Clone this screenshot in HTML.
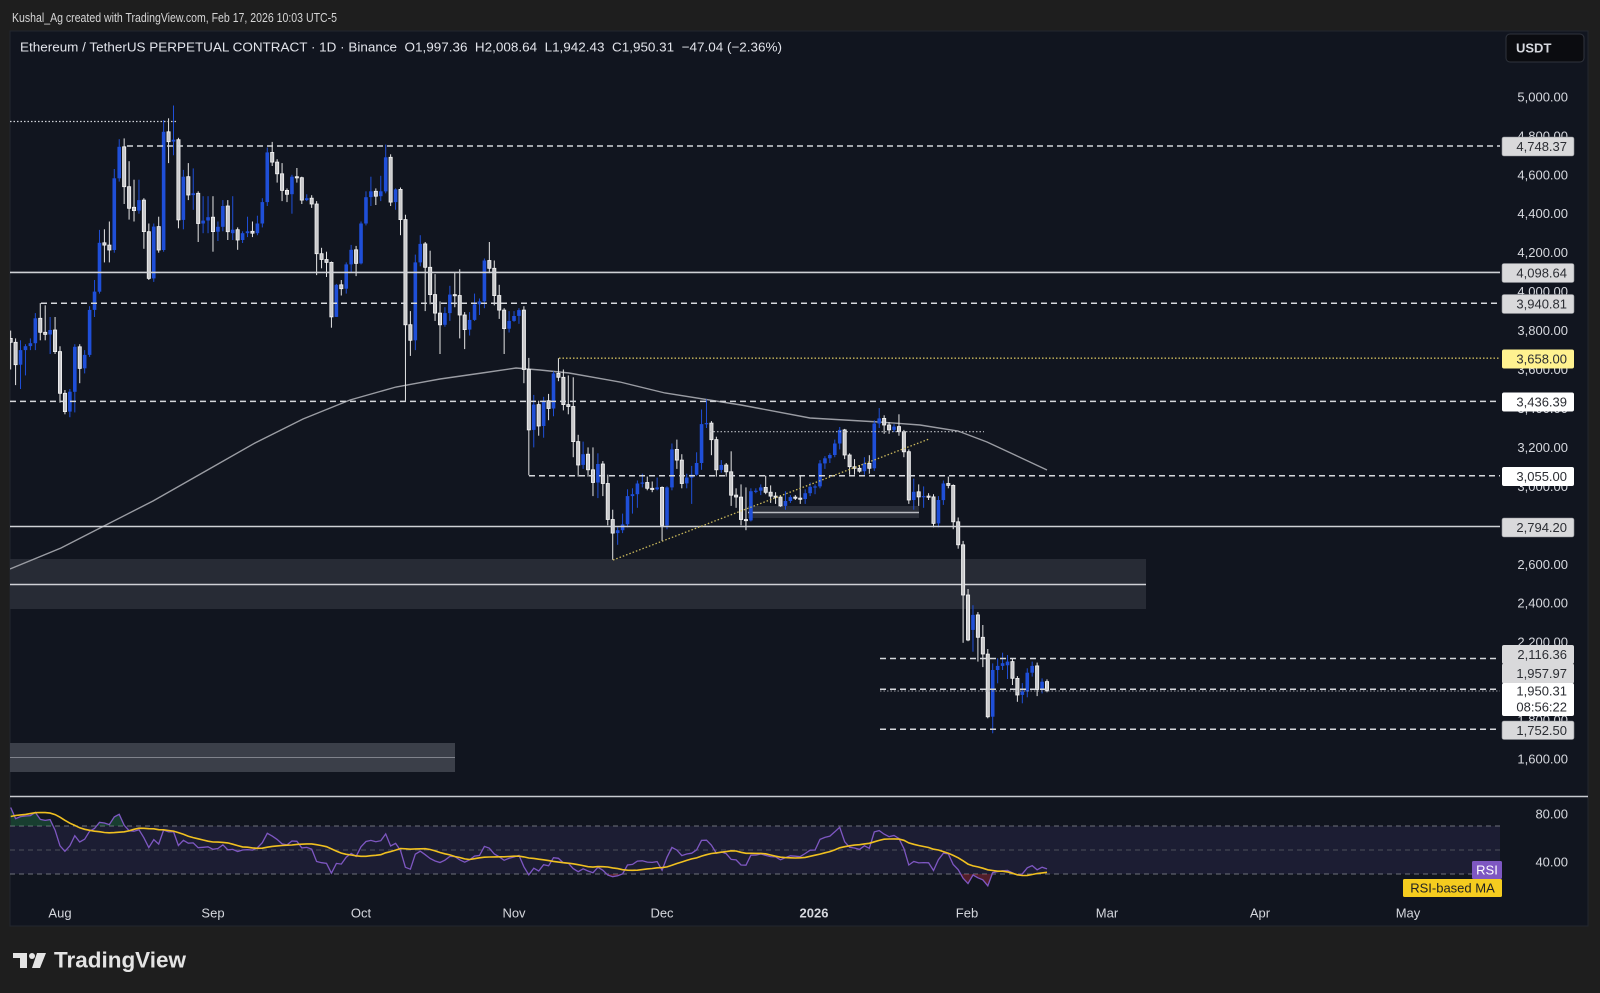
<!DOCTYPE html>
<html><head><meta charset="utf-8">
<style>
html,body{margin:0;padding:0;background:#1e1e1e;}
body{width:1600px;height:993px;overflow:hidden;}
svg{display:block;font-family:"Liberation Sans",Arial,sans-serif;}
</style></head>
<body>
<svg id="s" width="1600" height="993" viewBox="0 0 1600 993" xmlns="http://www.w3.org/2000/svg">
<defs>
<clipPath id="plot"><rect x="10" y="31" width="1490" height="765"/></clipPath>
<clipPath id="rsiclip"><rect x="10" y="798" width="1490" height="110"/></clipPath>
<clipPath id="ob"><rect x="10" y="790" width="1490" height="36"/></clipPath>
<clipPath id="os"><rect x="10" y="874" width="1490" height="40"/></clipPath>
</defs>
<rect width="1600" height="993" fill="#1e1e1e"/>
<rect x="10" y="31" width="1578" height="895" fill="#11151f" stroke="#23272f" stroke-width="1"/>

<!-- header -->
<text x="12" y="22" font-size="13" fill="#d6d6d6" textLength="325" lengthAdjust="spacingAndGlyphs">Kushal_Ag created with TradingView.com, Feb 17, 2026 10:03 UTC-5</text>
<text x="20" y="51.5" font-size="13" fill="#e1e3ea" textLength="762" lengthAdjust="spacingAndGlyphs" xml:space="preserve">Ethereum / TetherUS PERPETUAL CONTRACT · 1D · Binance  O1,997.36  H2,008.64  L1,942.43  C1,950.31  −47.04 (−2.36%)</text>

<!-- USDT box -->
<rect x="1506" y="34" width="78" height="28" rx="4" fill="#0b0c10" stroke="#30343d" stroke-width="1"/>
<text x="1516" y="52.5" font-size="13" font-weight="bold" fill="#d6d8de">USDT</text>

<g clip-path="url(#plot)">
  <!-- zones -->
  <rect x="10" y="559" width="1136" height="50" fill="#272b35"/>
  <line x1="10" y1="584.5" x2="1146" y2="584.5" stroke="#cfd1d6" stroke-width="1.5"/>
  <rect x="10" y="743" width="445" height="29" fill="#3b3f49"/>
  <line x1="10" y1="757.5" x2="455" y2="757.5" stroke="#80838c" stroke-width="1"/>
  <rect x="748" y="506" width="171" height="12" fill="#2a2e38"/>
  <line x1="748" y1="512.5" x2="919" y2="512.5" stroke="#b8bac0" stroke-width="1.5"/>

  <!-- 200 MA -->
  <polyline fill="none" stroke="#9a9ca3" stroke-width="1.4" points="10,569 61,548 102,527 153,501 204,472 255,443 303,419 350,400 396,387 440,379 482,373 516,368 540,370 569,373 620,382 665,393 741,405 810,418 879,422 920,425 958,431 987,442 1015,455 1047,470"/>

  <g id="candles"></g>

  <!-- drawings -->
  <line x1="10" y1="121.5" x2="176" y2="121.5" stroke="#d0d2d8" stroke-width="1.2" stroke-dasharray="1.5 2"/>
  <line x1="127" y1="146" x2="1500" y2="146" stroke="#d6d8dc" stroke-width="1.5" stroke-dasharray="6 4"/>
  <line x1="10" y1="272.4" x2="1500" y2="272.4" stroke="#cfd1d6" stroke-width="1.6"/>
  <line x1="41" y1="303.2" x2="1500" y2="303.2" stroke="#d6d8dc" stroke-width="1.5" stroke-dasharray="6 4"/>
  <line x1="559" y1="358.2" x2="1500" y2="358.2" stroke="#cbb95c" stroke-width="1.3" stroke-dasharray="1.5 2"/>
  <line x1="10" y1="401.4" x2="1500" y2="401.4" stroke="#d6d8dc" stroke-width="1.5" stroke-dasharray="6 4"/>
  <line x1="529" y1="475.7" x2="1500" y2="475.7" stroke="#d6d8dc" stroke-width="1.5" stroke-dasharray="6 4"/>
  <line x1="10" y1="526.5" x2="1500" y2="526.5" stroke="#cfd1d6" stroke-width="1.6"/>
  <line x1="710" y1="431.7" x2="984" y2="431.7" stroke="#b8bac0" stroke-width="1.2" stroke-dasharray="1.5 2"/>
  <line x1="613" y1="560" x2="929" y2="439" stroke="#cbb95c" stroke-width="1.3" stroke-dasharray="1.5 2"/>
  <line x1="880" y1="658.5" x2="1500" y2="658.5" stroke="#d6d8dc" stroke-width="1.5" stroke-dasharray="6 4"/>
  <line x1="880" y1="689.3" x2="1500" y2="689.3" stroke="#d6d8dc" stroke-width="1.5" stroke-dasharray="6 4"/>
  <line x1="880" y1="691" x2="1500" y2="691" stroke="#9a9ca3" stroke-width="1" stroke-dasharray="1.5 2"/>
  <line x1="880" y1="729.3" x2="1500" y2="729.3" stroke="#d6d8dc" stroke-width="1.5" stroke-dasharray="6 4"/>
</g>

<!-- price axis tick labels -->
<g font-size="13" fill="#d6d8de" text-anchor="end">
<text x="1568" y="101.4">5,000.00</text>
<text x="1568" y="140.3">4,800.00</text>
<text x="1568" y="179.3">4,600.00</text>
<text x="1568" y="218.2">4,400.00</text>
<text x="1568" y="257.2">4,200.00</text>
<text x="1568" y="296.1">4,000.00</text>
<text x="1568" y="335.1">3,800.00</text>
<text x="1568" y="374">3,600.00</text>
<text x="1568" y="413">3,400.00</text>
<text x="1568" y="451.9">3,200.00</text>
<text x="1568" y="490.9">3,000.00</text>
<text x="1568" y="529.8">2,800.00</text>
<text x="1568" y="568.8">2,600.00</text>
<text x="1568" y="607.7">2,400.00</text>
<text x="1568" y="646.7">2,200.00</text>
<text x="1568" y="685.6">2,000.00</text>
<text x="1568" y="724.6">1,800.00</text>
<text x="1568" y="763.5">1,600.00</text>
</g>

<!-- price boxes -->
<g font-size="13" text-anchor="end">
<rect x="1502" y="137" width="72" height="19" rx="2" fill="#d9d9db" stroke="#8a8c92" stroke-width="0.6"/>
<text x="1567" y="151" fill="#2b2d33">4,748.37</text>
<rect x="1502" y="263.5" width="72" height="19" rx="2" fill="#d9d9db" stroke="#8a8c92" stroke-width="0.6"/>
<text x="1567" y="277.5" fill="#2b2d33">4,098.64</text>
<rect x="1502" y="294.5" width="72" height="19" rx="2" fill="#d9d9db" stroke="#8a8c92" stroke-width="0.6"/>
<text x="1567" y="308.5" fill="#2b2d33">3,940.81</text>
<rect x="1502" y="349.5" width="72" height="19" rx="2" fill="#fff290"/>
<text x="1567" y="363.5" fill="#2b2d33">3,658.00</text>
<rect x="1502" y="392.5" width="72" height="19" rx="2" fill="#ffffff"/>
<text x="1567" y="406.5" fill="#2b2d33">3,436.39</text>
<rect x="1502" y="467" width="72" height="19" rx="2" fill="#ffffff"/>
<text x="1567" y="481" fill="#2b2d33">3,055.00</text>
<rect x="1502" y="518" width="72" height="19" rx="2" fill="#d9d9db" stroke="#8a8c92" stroke-width="0.6"/>
<text x="1567" y="532" fill="#2b2d33">2,794.20</text>
<rect x="1502" y="645" width="72" height="19" rx="2" fill="#d9d9db"/>
<text x="1567" y="659" fill="#2b2d33">2,116.36</text>
<rect x="1502" y="663.5" width="72" height="20" rx="2" fill="#d9d9db"/>
<text x="1567" y="678" fill="#2b2d33">1,957.97</text>
<rect x="1502" y="683" width="72" height="33" rx="2" fill="#ffffff"/>
<text x="1567" y="695.5" fill="#2b2d33">1,950.31</text>
<text x="1567" y="711.5" fill="#2b2d33">08:56:22</text>
<rect x="1502" y="721" width="72" height="18.5" rx="2" fill="#d9d9db" stroke="#8a8c92" stroke-width="0.6"/>
<text x="1567" y="734.8" fill="#2b2d33">1,752.50</text>
</g>

<!-- pane separator -->
<line x1="10" y1="796.5" x2="1588" y2="796.5" stroke="#c8cad0" stroke-width="1.5"/>

<!-- RSI pane -->
<rect x="10" y="826" width="1490" height="48" fill="#1c1d33"/>
<line x1="10" y1="826" x2="1500" y2="826" stroke="#6e717b" stroke-width="1" stroke-dasharray="5 4"/>
<line x1="10" y1="850" x2="1500" y2="850" stroke="#4e515b" stroke-width="1" stroke-dasharray="5 4"/>
<line x1="10" y1="874" x2="1500" y2="874" stroke="#6e717b" stroke-width="1" stroke-dasharray="5 4"/>
<g clip-path="url(#rsiclip)">
  <path id="obfill" clip-path="url(#ob)" fill="rgba(38,140,80,0.35)" d=""/>
  <path id="osfill" clip-path="url(#os)" fill="rgba(200,50,60,0.35)" d=""/>
  <polyline id="rsiline" fill="none" stroke="#7e57c2" stroke-width="1.3" points=""/>
  <polyline id="rsima" fill="none" stroke="#f0c020" stroke-width="1.6" points=""/>
</g>
<g font-size="13" fill="#d6d8de" text-anchor="end">
<text x="1568" y="818.5">80.00</text>
<text x="1568" y="866.5">40.00</text>
</g>
<rect x="1472" y="861" width="30" height="18" rx="1.5" fill="#7e57c2"/>
<text x="1487" y="874.5" font-size="13" fill="#ffffff" text-anchor="middle">RSI</text>
<rect x="1403" y="879" width="99" height="18" rx="1.5" fill="#f5cc1f"/>
<text x="1452.5" y="892.5" font-size="13" fill="#222" text-anchor="middle">RSI-based MA</text>

<!-- time axis -->
<g font-size="13" fill="#d6d8de" text-anchor="middle">
<text x="60" y="917.5">Aug</text>
<text x="213" y="917.5">Sep</text>
<text x="361" y="917.5">Oct</text>
<text x="514" y="917.5">Nov</text>
<text x="662" y="917.5">Dec</text>
<text x="814" y="917.5" font-weight="bold">2026</text>
<text x="967" y="917.5">Feb</text>
<text x="1107" y="917.5">Mar</text>
<text x="1260" y="917.5">Apr</text>
<text x="1408" y="917.5">May</text>
</g>

<!-- logo -->
<g fill="#e4e4e4">
<rect x="13" y="953" width="14" height="5"/>
<rect x="20" y="953" width="7" height="15"/>
<circle cx="32" cy="956" r="3"/>
<polygon points="37,953 46,953 40,968 32,968"/>
</g>
<text x="54" y="967.5" font-size="22" font-weight="bold" fill="#e4e4e4" textLength="132" lengthAdjust="spacingAndGlyphs">TradingView</text>
</svg>

<script>
(function(){
const D=[
[3760,3800,3600,3740],[3740,3760,3520,3625],[3625,3750,3500,3700],[3700,3730,3570,3720],[3720,3760,3700,3735],
[3735,3890,3700,3863],[3863,3941,3750,3791],[3791,3930,3750,3780],[3780,3870,3680,3803],[3803,3870,3680,3692],
[3692,3720,3430,3478],[3478,3495,3370,3384],[3384,3500,3355,3486],[3486,3730,3380,3717],[3717,3730,3530,3606],
[3606,3700,3580,3675],[3675,3925,3665,3906],[3906,4060,3870,4000],[4000,4317,3990,4251],[4251,4320,4150,4239],
[4239,4360,4150,4214],[4214,4630,4200,4582],[4582,4783,4565,4744],[4744,4787,4450,4539],[4539,4670,4370,4428],
[4433,4575,4360,4416],[4416,4575,4400,4470],[4470,4480,4220,4308],[4308,4350,4060,4068],[4068,4350,4050,4334],
[4334,4385,4200,4214],[4214,4881,4205,4821],[4821,4890,4660,4770],[4770,4956,4700,4780],[4780,4790,4325,4368],
[4368,4625,4320,4590],[4590,4660,4470,4496],[4496,4633,4420,4505],[4505,4515,4255,4350],[4350,4490,4300,4365],
[4365,4490,4300,4382],[4382,4490,4205,4308],[4308,4360,4260,4333],[4333,4470,4310,4440],[4440,4470,4265,4308],
[4300,4490,4265,4318],[4318,4330,4215,4265],[4265,4310,4250,4300],[4300,4385,4280,4310],[4310,4360,4280,4300],
[4300,4390,4290,4350],[4350,4480,4330,4460],[4460,4740,4440,4715],[4715,4769,4645,4665],[4665,4680,4560,4605],
[4605,4660,4465,4520],[4520,4530,4460,4500],[4500,4600,4400,4590],[4590,4635,4560,4585],[4585,4590,4450,4470],
[4470,4500,4465,4480],[4480,4495,4430,4450],[4450,4465,4085,4195],[4195,4225,4120,4165],[4165,4205,4075,4150],
[4150,4155,3815,3870],[3870,4040,3870,4035],[4035,4060,3980,4015],[4015,4150,3990,4140],[4140,4240,4100,4215],
[4215,4235,4080,4145],[4145,4360,4140,4350],[4350,4515,4340,4485],[4485,4590,4440,4515],[4515,4530,4445,4490],
[4490,4595,4465,4515],[4515,4755,4505,4690],[4690,4705,4440,4460],[4460,4530,4420,4525],[4525,4535,4290,4370],
[4370,4395,3435,3830],[3830,3900,3670,3750],[3750,4190,3700,4150],[4150,4290,4130,4245],[4245,4255,3900,4125],
[4125,4210,3935,3985],[3985,4090,3850,3890],[3890,3950,3680,3830],[3830,3920,3820,3890],[3890,4030,3850,3985],
[3985,4100,3920,3980],[3980,4115,3760,3880],[3880,3895,3705,3805],[3805,3895,3775,3855],[3855,3990,3850,3935],
[3935,3965,3880,3950],[3950,4170,3915,4160],[4160,4255,4095,4120],[4120,4160,3930,3980],[3980,4035,3860,3905],
[3905,3915,3680,3810],[3810,3900,3790,3850],[3850,3900,3845,3875],[3875,3915,3835,3905],[3905,3925,3530,3600],
[3600,3660,3057,3290],[3290,3470,3200,3420],[3420,3440,3260,3310],[3310,3460,3250,3440],[3440,3475,3340,3400],
[3400,3590,3360,3580],[3580,3658,3540,3560],[3560,3600,3390,3420],[3420,3570,3370,3410],[3410,3560,3150,3230],
[3230,3265,3050,3110],[3110,3230,3090,3165],[3165,3200,3050,3085],[3085,3200,2950,3020],[3020,3170,2940,3115],
[3115,3130,2950,3015],[3015,3060,2800,2830],[2830,2880,2623,2760],[2760,2790,2700,2775],[2775,2860,2760,2805],
[2805,2985,2790,2950],[2950,2990,2860,2960],[2960,3030,2890,3015],[3015,3065,2995,3020],[3020,3050,2980,2990],
[2990,3025,2970,2985],[2985,3045,2980,2995],[2995,3000,2720,2800],[2800,3000,2780,2995],[2995,3220,2980,3190],
[3190,3240,3090,3135],[3135,3165,2990,3015],[3015,3065,2990,3045],[3045,3105,2910,3060],[3060,3175,3055,3120],
[3120,3395,3085,3320],[3320,3447,3300,3325],[3325,3335,3160,3240],[3240,3255,3050,3085],[3085,3135,3070,3110],
[3110,3120,3050,3075],[3075,3180,2900,2955],[2955,2990,2890,2945],[2945,3010,2800,2830],[2830,2995,2775,2825],
[2825,2990,2820,2975],[2975,2990,2965,2978],[2978,3010,2955,2995],[2995,3055,2960,2970],[2970,3005,2915,2950],
[2950,2970,2910,2945],[2945,2955,2895,2900],[2900,2975,2880,2925],[2925,2955,2915,2945],[2945,2955,2930,2940],
[2940,3055,2910,2935],[2935,2985,2910,2965],[2965,3020,2950,2998],[2998,3010,2960,3000],[3000,3135,2990,3118],
[3118,3155,3090,3144],[3144,3170,3120,3161],[3161,3240,3150,3220],[3220,3305,3190,3290],[3290,3295,3140,3161],
[3161,3170,3060,3101],[3101,3140,3060,3093],[3093,3110,3070,3078],[3078,3150,3060,3118],[3118,3160,3065,3093],
[3093,3340,3080,3323],[3323,3402,3300,3349],[3349,3365,3270,3315],[3315,3330,3270,3290],[3290,3320,3280,3307],
[3307,3370,3260,3281],[3281,3290,3150,3178],[3178,3190,2910,2930],[2930,3040,2880,2972],[2972,3010,2900,2946],
[2946,3000,2890,2950],[2950,2965,2930,2946],[2946,2960,2790,2810],[2810,2950,2790,2930],[2930,3030,2905,3015],
[3015,3050,2990,3005],[3005,3010,2780,2818],[2818,2840,2680,2700],[2700,2720,2197,2442],[2442,2473,2205,2211],
[2263,2390,2151,2340],[2340,2355,2100,2225],[2225,2288,2072,2139],[2139,2165,1809,1817],[1817,2091,1732,2057],
[2057,2117,1989,2078],[2078,2146,2057,2092],[2081,2134,2011,2100],[2100,2117,1980,2014],[2014,2026,1894,1929],
[1929,1990,1886,1946],[1946,2066,1917,2043],[2043,2100,2023,2078],[2078,2095,1923,1957],[1957,2014,1937,1997],
[1997.36,2008.64,1942.43,1950.31]
];
const W=[2530,2600,2590,2610,2420,2480,2525,2510,2680,2820,2770,2640,2580,2525,2545,2545,2510,2525,2520,2410,
2410,2230,2410,2450,2420,2420,2430,2440,2500,2485,2405,2570,2590,2510,2515,2570,2540,2610,2770,2950,
2960,2945,2970,3010,3140,3370,3475,3545,3590,3755,3760];
const X=d=>60+d*4.935, Y=p=>96.9+(5000-p)*0.19474;
let h='';
D.forEach((c,i)=>{
  const d=i-10,x=X(d),o=c[0],hi=c[1],lo=c[2],cl=c[3],up=cl>=o;
  const yt=Y(Math.max(o,cl)),yb=Y(Math.min(o,cl)),bh=Math.max(yb-yt,1.2);
  if(up){
    h+='<line x1="'+x.toFixed(2)+'" y1="'+Y(hi).toFixed(1)+'" x2="'+x.toFixed(2)+'" y2="'+Y(lo).toFixed(1)+'" stroke="#1f4fd8" stroke-width="1"/>';
    h+='<rect x="'+(x-1.8).toFixed(2)+'" y="'+yt.toFixed(1)+'" width="3.6" height="'+bh.toFixed(1)+'" fill="#1f4fd8"/>';
  }else{
    h+='<line x1="'+x.toFixed(2)+'" y1="'+Y(hi).toFixed(1)+'" x2="'+x.toFixed(2)+'" y2="'+Y(lo).toFixed(1)+'" stroke="#e6e6e6" stroke-width="1"/>';
    h+='<rect x="'+(x-1.6).toFixed(2)+'" y="'+yt.toFixed(1)+'" width="3.2" height="'+bh.toFixed(1)+'" fill="#c9c9cb" stroke="#f4f4f4" stroke-width="0.8"/>';
  }
});
document.getElementById('candles').innerHTML=h;

const C=W.concat(D.map(c=>c[3])),n=C.length,R=new Array(n).fill(null);
let ag=0,al=0;
for(let i=1;i<n;i++){
  const ch=C[i]-C[i-1],g=Math.max(ch,0),l=Math.max(-ch,0);
  if(i<=14){ag+=g;al+=l;if(i===14){ag/=14;al/=14;R[i]=al===0?100:100-100/(1+ag/al);}}
  else{ag=(ag*13+g)/14;al=(al*13+l)/14;R[i]=al===0?100:100-100/(1+ag/al);}
}
const M=new Array(n).fill(null);
for(let i=27;i<n;i++){let s=0;for(let k=i-13;k<=i;k++)s+=R[k];M[i]=s/14;}
const off=W.length,YR=r=>814+(80-r)*1.2;
let pr=[],pm=[],xs=[];
for(let i=off;i<n;i++){
  const x=X(i-off-10);xs.push(x);
  pr.push(x.toFixed(1)+','+YR(R[i]).toFixed(1));
  pm.push(x.toFixed(1)+','+YR(M[i]).toFixed(1));
}
document.getElementById('rsiline').setAttribute('points',pr.join(' '));
document.getElementById('rsima').setAttribute('points',pm.join(' '));
const x0=xs[0].toFixed(1),x1=xs[xs.length-1].toFixed(1);
document.getElementById('obfill').setAttribute('d','M'+x0+',826 L'+pr.join(' L')+' L'+x1+',826 Z');
document.getElementById('osfill').setAttribute('d','M'+x0+',874 L'+pr.join(' L')+' L'+x1+',874 Z');
})();
</script>
</body></html>
